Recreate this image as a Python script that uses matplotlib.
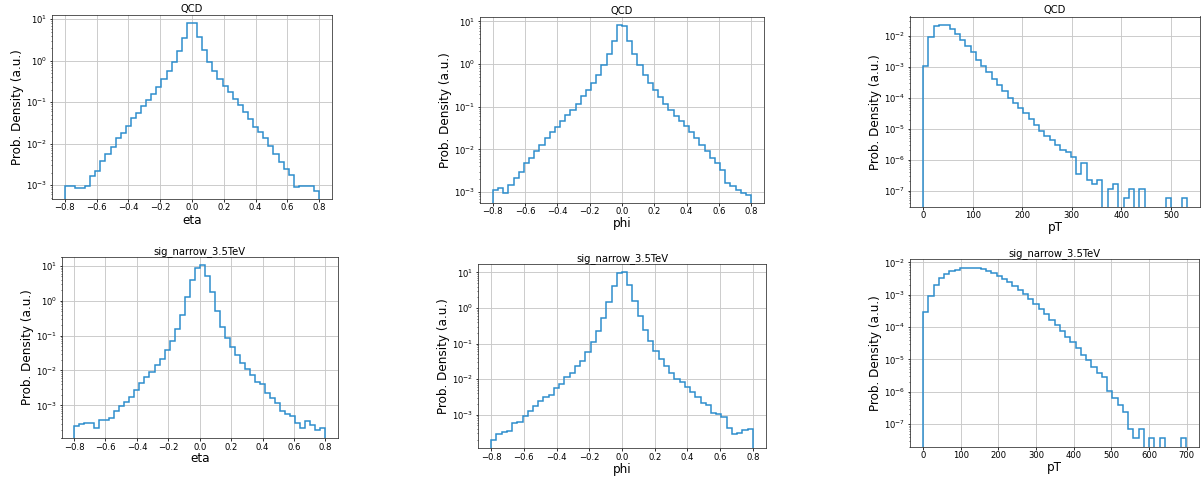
import matplotlib
matplotlib.use("Agg")
import matplotlib.pyplot as plt
import numpy as np

# bin edges (50 bins each)
angle_edges = np.linspace(-0.8, 0.8, 51)
pt_qcd_edges = np.linspace(0, 532, 51)
pt_sig_edges = np.linspace(0, 698, 51)

# QCD densities
qcd_eta = [9.5e-4, 9.5e-4, 8.5e-4, 8.8e-4, 9.4e-4, 1.66e-3, 2.2e-3, 3.8e-3, 5.8e-3, 8.5e-3,
           1.35e-2, 1.8e-2, 2.75e-2, 4.1e-2, 5.6e-2, 8.0e-2, 0.116, 0.16, 0.237, 0.364,
           0.56, 0.93, 1.72, 3.57, 7.98, 7.98, 3.77, 1.79, 0.95, 0.56,
           0.364, 0.25, 0.175, 0.118, 8.5e-2, 5.7e-2, 4.0e-2, 2.6e-2, 1.9e-2, 1.35e-2,
           8.9e-3, 5.6e-3, 3.7e-3, 2.5e-3, 1.8e-3, 9.0e-4, 9.7e-4, 9.7e-4, 9.7e-4, 7.4e-4]

qcd_phi = [1.1e-3, 1.24e-3, 9.6e-4, 1.46e-3, 2.1e-3, 3.0e-3, 4.7e-3, 6.2e-3, 9.1e-3, 1.3e-2,
           1.87e-2, 2.53e-2, 3.4e-2, 4.6e-2, 6.4e-2, 8.6e-2, 0.119, 0.176, 0.252, 0.36,
           0.556, 0.935, 1.72, 3.53, 8.05, 7.64, 3.40, 1.75, 0.935, 0.565,
           0.36, 0.243, 0.17, 0.119, 8.6e-2, 6.2e-2, 4.6e-2, 3.6e-2, 2.58e-2, 1.87e-2,
           1.3e-2, 9.1e-3, 6.4e-3, 4.7e-3, 3.3e-3, 1.65e-3, 1.38e-3, 1.1e-3, 9.6e-4, 8.8e-4]

qcd_pt = [1.1e-3, 9.3e-3, 2.07e-2, 2.18e-2, 2.23e-2, 1.69e-2, 1.16e-2, 7.2e-3, 4.7e-3, 3.0e-3,
          1.73e-3, 1.05e-3, 6.7e-4, 4.0e-4, 2.57e-4, 1.64e-4, 1.02e-4, 7.0e-5, 4.8e-5, 3.3e-5,
          2.09e-5, 1.36e-5, 8.5e-6, 6.0e-6, 4.4e-6, 2.9e-6, 2.0e-6, 1.75e-6, 1.26e-6, 3.4e-7,
          8.0e-7, 2.3e-7, 1.7e-7, 2.3e-7, 0, 1.14e-7, 1.7e-7, 0, 5.7e-8, 1.14e-7,
          0, 1.14e-7, 0, 0, 0, 0, 5.7e-8, 0, 0, 5.7e-8]

# signal densities
sig_eta = [2.6e-4, 2.83e-4, 3.1e-4, 3.1e-4, 2.2e-4, 3.7e-4, 3.7e-4, 4.3e-4, 6.9e-4, 9.6e-4,
           1.28e-3, 1.78e-3, 2.77e-3, 4.3e-3, 6.4e-3, 8.9e-3, 1.46e-2, 2.17e-2, 3.78e-2, 7.2e-2,
           0.156, 0.40, 1.30, 3.95, 8.96, 10.7, 5.15, 1.78, 0.526, 0.178,
           8.4e-2, 4.7e-2, 2.7e-2, 1.63e-2, 1.1e-2, 7.5e-3, 4.8e-3, 4.04e-3, 2.2e-3, 1.63e-3,
           1.19e-3, 6.9e-4, 5.6e-4, 4.9e-4, 3.1e-4, 2.3e-4, 3.45e-4, 2.65e-4, 1.99e-4, 2.27e-4]

sig_phi = [2.0e-4, 2.8e-4, 3.35e-4, 3.5e-4, 5.7e-4, 6.3e-4, 9.2e-4, 1.26e-3, 1.8e-3, 2.47e-3,
           3.1e-3, 3.6e-3, 5.5e-3, 7.4e-3, 1.15e-2, 1.5e-2, 2.35e-2, 3.3e-2, 5.9e-2, 0.113,
           0.232, 0.526, 1.45, 4.13, 9.4, 10.0, 4.5, 1.57, 0.585, 0.237,
           0.116, 6.2e-2, 3.8e-2, 2.35e-2, 1.48e-2, 1.03e-2, 8.2e-3, 6.0e-3, 4.36e-3, 3.25e-3,
           2.13e-3, 1.92e-3, 1.13e-3, 1.02e-3, 8.6e-4, 4.3e-4, 2.8e-4, 3.0e-4, 3.7e-4, 4.1e-4]

sig_pt = [2.9e-4, 9.1e-4, 1.97e-3, 3.2e-3, 4.4e-3, 5.3e-3, 5.96e-3, 6.5e-3, 6.9e-3, 6.9e-3,
          6.7e-3, 6.1e-3, 5.4e-3, 4.6e-3, 3.8e-3, 3.1e-3, 2.44e-3, 1.88e-3, 1.38e-3, 1.02e-3,
          7.5e-4, 5.3e-4, 3.7e-4, 2.6e-4, 1.7e-4, 1.14e-4, 7.6e-5, 5.0e-5, 3.4e-5, 2.25e-5,
          1.4e-5, 9.4e-6, 6.0e-6, 3.85e-6, 2.83e-6, 1.05e-6, 6.3e-7, 4.0e-7, 2.33e-7, 7.2e-8,
          3.6e-8, 7.2e-8, 0, 3.6e-8, 0, 3.6e-8, 0, 0, 0, 3.6e-8]

titles = ["QCD", "QCD", "QCD",
          "sig_narrow_3.5TeV", "sig_narrow_3.5TeV", "sig_narrow_3.5TeV"]
xlabels = ["eta", "phi", "pT", "eta", "phi", "pT"]
series = [qcd_eta, qcd_phi, qcd_pt, sig_eta, sig_phi, sig_pt]
edges = [angle_edges, angle_edges, pt_qcd_edges, angle_edges, angle_edges, pt_sig_edges]

# axes boxes in pixels: left, top, right, bottom
boxes = [(52, 15, 332, 199), (480, 17, 764, 203), (910, 16.5, 1200, 207),
         (61.5, 256.7, 338, 438), (478, 264, 766, 448), (910, 259, 1199, 447)]

W, H = 1203, 480
fig = plt.figure(figsize=(W / 72, H / 72), dpi=72)

for i in range(6):
    l, t, r, b = boxes[i]
    ax = fig.add_axes([l / W, (H - b) / H, (r - l) / W, (b - t) / H])
    e = edges[i]
    ax.hist(e[:-1], bins=e, weights=series[i], histtype='step', log=True,
            color='#2a8ccc', lw=1.5)
    ax.grid(True, color='#c8c8c8', lw=0.9)
    ax.set_axisbelow(True)
    ax.set_title(titles[i], fontsize=10, pad=3)
    ax.set_xlabel(xlabels[i], fontsize=12, labelpad=1)
    ax.set_ylabel("Prob. Density (a.u.)", fontsize=12, labelpad=2)
    ax.tick_params(labelsize=8.5, length=2.5, pad=2)
    ax.tick_params(which='minor', length=1.5)
    for s in ax.spines.values():
        s.set_color('#333333')

fig.savefig("out.png", dpi=72)
